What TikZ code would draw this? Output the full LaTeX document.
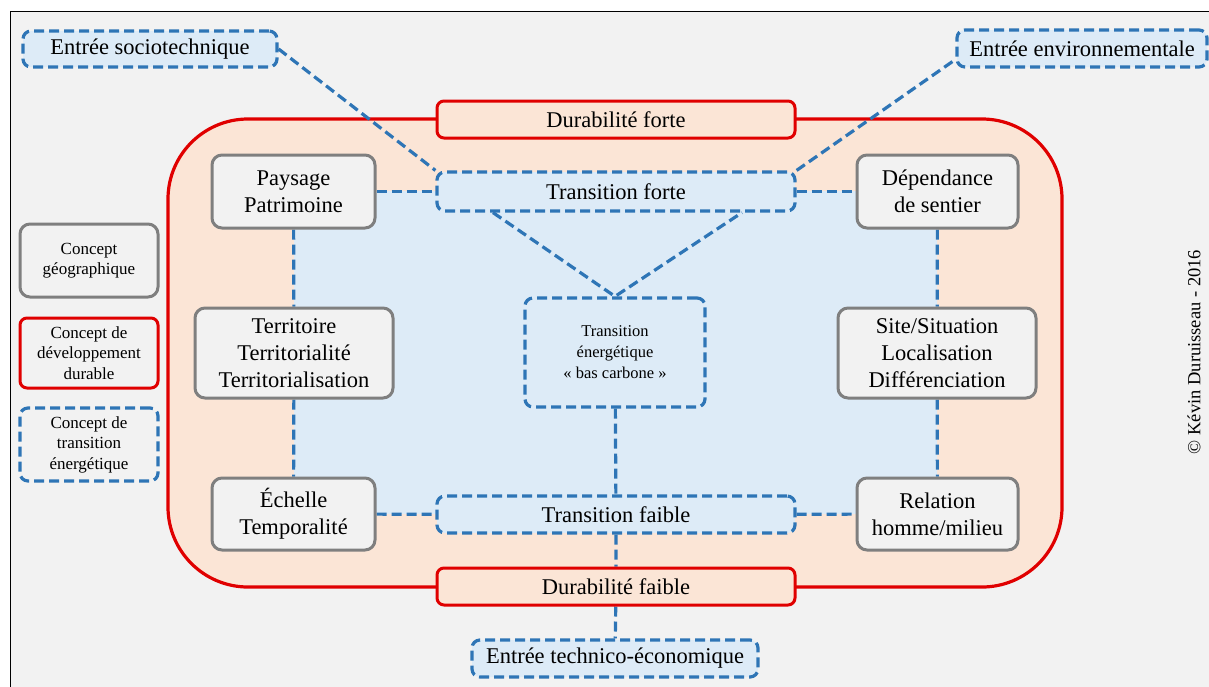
\documentclass[tikz,border=0pt]{standalone}
\usepackage{fontspec}
\setmainfont{Liberation Serif}
\usetikzlibrary{backgrounds,calc}
\definecolor{fondgris}{HTML}{F2F2F2}
\definecolor{grisbord}{HTML}{7F7F7F}
\definecolor{peche}{HTML}{FBE5D6}
\definecolor{rouge}{HTML}{E00000}
\definecolor{bleu}{HTML}{2E75B6}
\definecolor{bleuclair}{HTML}{DDEBF7}
\begin{document}
\begin{tikzpicture}[x=1pt,y=-1pt,line join=round,
	boite/.style={inner sep=0pt,align=center,font=\fontsize{22.5}{27}\selectfont},
	geo/.style={boite,draw=grisbord,fill=fondgris,line width=3pt,rounded corners=10pt},
	dd/.style={boite,draw=rouge,fill=peche,line width=3pt,rounded corners=7pt},
	te/.style={boite,draw=bleu,fill=bleuclair,line width=3.2pt,dash pattern=on 10pt off 5pt,rounded corners=8pt},
	lien/.style={draw=bleu,line width=3.2pt,dash pattern=on 10pt off 5pt},
	petit/.style={font=\fontsize{17}{20.5}\selectfont}]
		\clip (0,0) rectangle (1209,686);
		\node[te,minimum width=254,minimum height=36] (socio) at (150,49) {Entrée sociotechnique};
		\node[te,minimum width=250,minimum height=37] (env) at (1082,48.5) {Entrée environnementale};
		\node[dd,minimum width=358,minimum height=37] (dforte) at (616,119.5) {Durabilité forte};
		\node[te,minimum width=358,minimum height=39] (tforte) at (616,191.5) {Transition forte};
		\node[geo,minimum width=163,minimum height=73] (paysage) at (293.5,191.5) {Paysage\\Patrimoine};
		\node[geo,minimum width=161,minimum height=73] (dependance) at (937.5,191.5) {Dépendance\\de sentier};
		\node[geo,minimum width=198,minimum height=90] (territoire) at (294,353) {Territoire\\Territorialité\\Territorialisation};
		\node[geo,minimum width=198,minimum height=90] (site) at (937,353) {Site/Situation\\Localisation\\Différenciation};
		\node[te,font=\fontsize{16.5}{21}\selectfont,minimum width=180,minimum height=109] (centre) at (615,352.5) {Transition\\énergétique\\«~bas carbone~»};
		\node[geo,minimum width=163,minimum height=72] (echelle) at (293.5,514) {Échelle\\Temporalité};
		\node[geo,minimum width=161,minimum height=72] (relation) at (937.5,514) {Relation\\homme/milieu};
		\node[te,minimum width=358,minimum height=37] (tfaible) at (616,514.5) {Transition faible};
		\node[dd,minimum width=358,minimum height=37] (dfaible) at (616,586.5) {Durabilité faible};
		\node[te,minimum width=286,minimum height=37] (techno) at (615,658.5) {Entrée technico-économique};
		\node[geo,petit,minimum width=138,minimum height=73] (leggeo) at (89,260.5) {Concept\\géographique};
		\node[dd,petit,fill=fondgris,minimum width=138,minimum height=70] (legdd) at (89,353) {Concept de\\développement\\durable};
		\node[te,petit,fill=fondgris,minimum width=138,minimum height=73] (legte) at (89,444.5) {Concept de\\transition\\énergétique};
		\node[rotate=90,font=\fontsize{18.5}{18.5}\selectfont] (auteur) at (1194,352) {© Kévin Duruisseau - 2016};
		\begin{scope}[on background layer]
		\draw[line width=1pt,fill=fondgris] (10,11) rectangle (1230,700);
		\draw[rouge,fill=peche,line width=3.2pt,rounded corners=80pt] (168,119) rectangle (1062,587);
		\fill[bleuclair,rounded corners=25pt] (294,191) rectangle (937,514);
		\draw[lien] (paysage) -- (tforte) -- (dependance);
		\draw[lien] (echelle) -- (tfaible) -- (relation);
		\draw[lien] (paysage) -- (territoire) -- (echelle);
		\draw[lien] (dependance) -- (site) -- (relation);
		\draw[lien] (socio.east) -- (tforte.north west);
		\draw[lien] ($(env.south west)+(-3,-7)$) -- (tforte.north east);
		\draw[lien] ($(tforte.south)+(-123,0)$) -- (centre.north) -- ($(tforte.south)+(126,0)$);
		\draw[lien] (centre) -- (tfaible) -- (dfaible) -- (techno);
		\end{scope}
		\end{tikzpicture}
\end{document}
